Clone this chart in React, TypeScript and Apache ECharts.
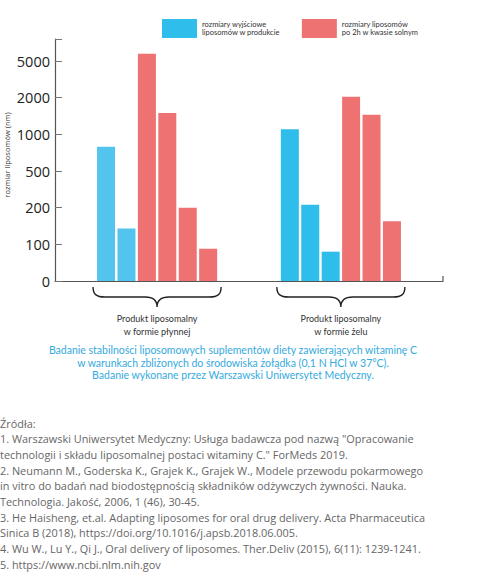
import React, { useEffect, useRef } from "react";
import * as echarts from "echarts";

const yTickValues = [0, 100, 200, 500, 1000, 2000, 5000];
const yTickLabels = ["0", "100", "200", "500", "1000", "2000", "5000"];
const yAxisTitle = "rozmiar liposomów (nm)";
const seriesNames = [
  "rozmiary wyjściowe\nliposomów w produkcie",
  "rozmiary liposomów\npo 2h w kwasie solnym",
];
const groupLabels = ["Produkt liposomalny\nw formie płynnej", "Produkt liposomalny\nw formie żelu"];
const liquidInitial = [790, 135];
const liquidAcid = [6000, 1500, 200, 88];
const gelInitial = [1100, 215, 80];
const gelAcid = [2050, 1450, 155];
const captionLines = [
  "Badanie stabilności liposomowych suplementów diety zawierających witaminę C",
  "w warunkach zbliżonych do środowiska żołądka (0,1 N HCl w 37°C).",
  "Badanie wykonane przez Warszawski Uniwersytet Medyczny.",
];
const sourceLines = [
  "Źródła:",
  '1. Warszawski Uniwersytet Medyczny: Usługa badawcza pod nazwą "Opracowanie',
  'technologii i składu liposomalnej postaci witaminy C." ForMeds 2019.',
  "2. Neumann M., Goderska K., Grajek K., Grajek W., Modele przewodu pokarmowego",
  "in vitro do badań nad biodostępnością składników odżywczych żywności. Nauka.",
  "Technologia. Jakość, 2006, 1 (46), 30-45.",
  "3. He Haisheng, et.al. Adapting liposomes for oral drug delivery. Acta Pharmaceutica",
  "Sinica B (2018), https://doi.org/10.1016/j.apsb.2018.06.005.",
  "4. Wu W., Lu Y., Qi J., Oral delivery of liposomes. Ther.Deliv (2015), 6(11): 1239-1241.",
  "5. https://www.ncbi.nlm.nih.gov",
];

const BLUE = "#2FBDEC";
const BLUE_LIGHT = "#52C4EE";
const RED = "#EE7272";

// map a value onto the chart's evenly spaced tick scale (0,100,200,500,1000,2000,5000)
function toPos(v: number): number {
  if (v <= yTickValues[1]) return v / yTickValues[1];
  for (let i = 1; i < yTickValues.length - 1; i++) {
    const a = yTickValues[i];
    const b = yTickValues[i + 1];
    if (v <= b) return i + Math.log(v / a) / Math.log(b / a);
  }
  const n = yTickValues.length - 1;
  return n + Math.log(v / yTickValues[n]) / Math.log(yTickValues[n] / yTickValues[n - 1]);
}

const BRACE_D =
  "M0,0 C0,7 3,10 12,10 L53,10 C60,10 65,13 65,20 C65,13 70,10 77,10 L118,10 C127,10 130,7 130,0";
let braceRegistered = false;

export default function App() {
  const ref = useRef<HTMLDivElement>(null);
  useEffect(() => {
    if (!ref.current) return;
    if (!braceRegistered) {
      echarts.graphic.registerShape("brace", echarts.graphic.extendPath(BRACE_D, {}));
      braceRegistered = true;
    }
    const chart = echarts.init(ref.current, undefined, { renderer: "svg" });

    type Slot = { group: number; kind: number; v: number } | null;
    const slots: Slot[] = [];
    const pad = (n: number) => {
      for (let i = 0; i < n; i++) slots.push(null);
    };
    const groups = [
      [liquidInitial, liquidAcid],
      [gelInitial, gelAcid],
    ];
    const groupRanges: [number, number][] = [];
    pad(2);
    groups.forEach((g, gi) => {
      if (gi > 0) pad(3);
      const start = slots.length;
      g.forEach((arr, kind) => arr.forEach((v) => slots.push({ group: gi, kind, v })));
      groupRanges.push([start, slots.length - 1]);
    });
    pad(2);
    const cats = slots.map((_, i) => "c" + i);

    const makeData = (kind: number) =>
      slots.map((s) =>
        s && s.kind === kind
          ? {
              value: toPos(s.v),
              itemStyle: { color: kind === 0 ? (s.group === 0 ? BLUE_LIGHT : BLUE) : RED },
            }
          : "-"
      );

    const textFont = "Lato, 'Open Sans', sans-serif";
    chart.setOption({
      animation: false,
      backgroundColor: "#ffffff",
      grid: { left: 55, right: 35, top: 39, bottom: 302, outerBoundsMode: "none", containLabel: false },
      legend: {
        left: 157,
        top: 14,
        itemWidth: 35,
        itemHeight: 19,
        itemGap: 22,
        icon: "rect",
        data: seriesNames,
        textStyle: { fontSize: 7.5, lineHeight: 8, color: "#333", fontFamily: textFont },
      },
      xAxis: {
        type: "category",
        data: cats,
        axisLine: { lineStyle: { color: "#555", width: 1.2 } },
        axisTick: { show: false },
        axisLabel: { show: false },
      },
      yAxis: {
        type: "value",
        min: 0,
        max: 6.6,
        interval: 1,
        splitLine: { show: false },
        axisLine: { show: true, lineStyle: { color: "#555", width: 1.2 } },
        axisTick: { show: true, inside: true, length: 7, lineStyle: { color: "#777" } },
        axisLabel: {
          margin: 5,
          color: "#222",
          fontSize: 14.5,
          fontFamily: "'Open Sans', sans-serif",
          formatter: (v: number) => (Number.isInteger(v) && yTickLabels[v] !== undefined ? yTickLabels[v] : ""),
        },
      },
      series: [
        { type: "bar", name: seriesNames[0], data: makeData(0), barWidth: 18, barGap: "-100%", itemStyle: { color: BLUE } },
        { type: "bar", name: seriesNames[1], data: makeData(1), barWidth: 18, barGap: "-100%", itemStyle: { color: RED } },
      ],
    });

    const px = (i: number) => chart.convertToPixel({ xAxisIndex: 0 }, cats[i]) as number;
    const slotW = px(1) - px(0);
    const axisY = chart.convertToPixel({ yAxisIndex: 0 }, 0) as number;
    const graphics: any[] = [];
    // y-axis title
    graphics.push({
      type: "text",
      x: 6.5,
      y: 155,
      rotation: Math.PI / 2,
      style: {
        text: yAxisTitle,
        fill: "#333",
        fontSize: 7.5,
        fontFamily: "'Open Sans', sans-serif",
        align: "center",
        textAlign: "center",
        verticalAlign: "middle",
        textVerticalAlign: "middle",
      },
    });
    groupRanges.forEach(([a, b], gi) => {
      const left = px(a) - 13;
      const right = px(b) + 13;
      const w = right - left;
      graphics.push({
        type: "brace",
        x: left,
        y: axisY + 6,
        scaleX: w / 130,
        scaleY: 1,
        style: { fill: "none", stroke: "#222", lineWidth: 1.4 },
      });
      graphics.push({
        type: "text",
        x: (left + right) / 2,
        y: axisY + 31,
        style: {
          text: groupLabels[gi],
          fill: "#333",
          fontSize: 9,
          fontFamily: textFont,
          lineHeight: 13,
          align: "center",
          textAlign: "center",
          verticalAlign: "top",
          textVerticalAlign: "top",
        },
      });
    });
    // end tick of x axis
    const endX = px(cats.length - 1) + slotW / 2;
    graphics.push({
      type: "line",
      shape: { x1: endX, y1: axisY, x2: endX, y2: axisY - 5 },
      style: { stroke: "#555", lineWidth: 1.2 },
    });
    captionLines.forEach((line, i) => {
      graphics.push({
        type: "text",
        x: 233,
        y: 350 + i * 12.6,
        style: {
          text: line,
          fill: "#35AADD",
          fontSize: 10.5,
          fontFamily: textFont,
          align: "center",
          textAlign: "center",
          verticalAlign: "middle",
          textVerticalAlign: "middle",
        },
      });
    });
    sourceLines.forEach((line, i) => {
      graphics.push({
        type: "text",
        x: 0,
        y: 423 + i * 15.7,
        style: {
          text: line,
          fill: "#666",
          fontSize: 10.9,
          fontFamily: "'Open Sans', sans-serif",
          align: "left",
          textAlign: "left",
          verticalAlign: "middle",
          textVerticalAlign: "middle",
        },
      });
    });
    chart.setOption({ graphic: graphics });

    return () => chart.dispose();
  }, []);

  return (
    <div
      ref={ref}
      style={{ position: "absolute", left: 0, top: 0, width: 478, height: 583, background: "#fff" }}
    />
  );
}
